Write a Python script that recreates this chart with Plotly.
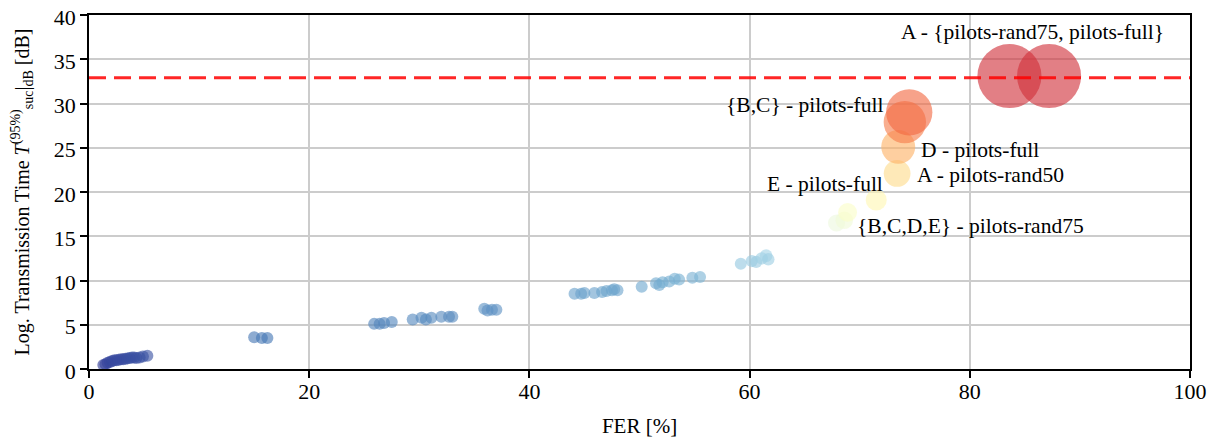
import plotly.graph_objects as go

# ---- data ----
fer = [1.3, 1.5, 1.7, 1.9, 2.1, 2.3, 2.5, 2.7, 2.9, 3.1, 3.3, 3.5, 3.7, 3.9, 4.1, 4.3, 4.6, 4.9, 5.3,
       15.0, 15.7, 16.2,
       25.9, 26.4, 26.8, 27.5,
       29.4, 30.2, 30.6, 31.1, 32.0, 32.7, 33.0,
       35.9, 36.2, 36.6, 37.0,
       44.1, 44.7, 45.0, 45.9, 46.6, 47.0, 47.5, 47.7, 48.0,
       50.2, 51.5, 51.8, 52.1, 52.7, 53.2, 53.6, 54.8, 55.5,
       59.2, 60.2, 60.6, 61.1, 61.5, 61.7,
       67.9, 68.6, 68.9,
       71.5, 73.4, 73.5, 74.1, 74.5,
       83.6, 87.2]
t95 = [0.45, 0.55, 0.7, 0.8, 0.9, 1.0, 1.0, 1.05, 1.1, 1.1, 1.15, 1.2, 1.25, 1.3, 1.3, 1.25, 1.3, 1.4, 1.5,
       3.6, 3.5, 3.5,
       5.1, 5.1, 5.2, 5.3,
       5.6, 5.8, 5.6, 5.8, 5.9, 5.9, 5.9,
       6.8, 6.6, 6.7, 6.7,
       8.5, 8.5, 8.6, 8.6, 8.7, 8.8, 8.9, 9.0, 8.9,
       9.3, 9.7, 9.5, 9.8, 9.9, 10.2, 10.1, 10.3, 10.4,
       11.9, 12.2, 12.1, 12.5, 12.8, 12.4,
       16.5, 16.8, 17.7,
       19.1, 22.1, 25.1, 27.9, 29.0,
       33.1, 33.1]

threshold = 32.9

labels = ["A - {pilots-rand75, pilots-full}", "{B,C} - pilots-full", "D - pilots-full",
          "A - pilots-rand50", "E - pilots-full", "{B,C,D,E} - pilots-rand75"]
label_x = [85.7, 72.3, 75.4, 75.0, 72.3, 69.6]
label_y = [38.1, 29.8, 24.8, 21.9, 20.9, 16.2]
label_anchor = ["center", "right", "left", "left", "right", "left"]

xticks = [0, 20, 40, 60, 80, 100]
yticks = [0, 5, 10, 15, 20, 25, 30, 35, 40]

# ---- styling ----
def msize(v):
    return max(12.0, 12.0 * 10 ** ((v - 12.0) / 29.0))

sizes = [msize(v) for v in t95]

rdylbu_r = [[0.0, "#313695"], [0.1, "#4575b4"], [0.3, "#74add1"], [0.4, "#abd9e9"],
            [0.46, "#e0f3f8"], [0.55, "#ffffbf"], [0.66, "#fee090"], [0.77, "#fdae61"],
            [0.87, "#f46d43"], [1.0, "#d0303a"]]

FONT = "Liberation Serif, Times New Roman, serif"

fig = go.Figure()
fig.add_trace(go.Scatter(
    x=fer, y=t95, mode="markers",
    marker=dict(size=sizes, color=t95, colorscale=rdylbu_r, cmin=0, cmax=33,
                opacity=0.62, line=dict(width=0)),
    showlegend=False, hoverinfo="x+y"))

fig.add_shape(type="line", xref="paper", yref="y", x0=0, x1=1, y0=threshold, y1=threshold,
              line=dict(color="rgba(255,0,0,0.85)", width=3, dash="17px,8px"), layer="above")

for t, x, y, a in zip(labels, label_x, label_y, label_anchor):
    fig.add_annotation(x=x, y=y, text=t, showarrow=False, xanchor=a, yanchor="middle",
                       font=dict(family=FONT, size=21.5, color="black"))

axis_common = dict(showline=True, linecolor="black", linewidth=1.5, mirror=True,
                   ticks="outside", ticklen=7, tickwidth=1.5, tickcolor="black",
                   showgrid=True, gridcolor="#cccccc", gridwidth=1.5, zeroline=False,
                   automargin=False, ticklabeloverflow="allow",
                   tickfont=dict(family=FONT, size=22, color="black"))

fig.update_xaxes(range=[0, 100], tickvals=xticks, ticklabelstandoff=-5,
                 title=dict(text="FER [%]", font=dict(family=FONT, size=21, color="black"), standoff=15),
                 **axis_common)
fig.update_yaxes(range=[0, 40], tickvals=yticks, ticklabelshift=2,
                 title=dict(text="Log. Transmission Time <i>T</i><sup>(95%)</sup><sub>suc</sub>|<sub>dB</sub> [dB]",
                            font=dict(family=FONT, size=20, color="black"), standoff=19),
                 **axis_common)

# the page body adds an 8px offset, so the figure is sized and placed to compensate
fig.update_layout(width=1209, height=431, plot_bgcolor="white", paper_bgcolor="white",
                  margin=dict(l=81, r=27, t=7, b=70, autoexpand=False), font=dict(family=FONT))

fig.write_html("out.html")
